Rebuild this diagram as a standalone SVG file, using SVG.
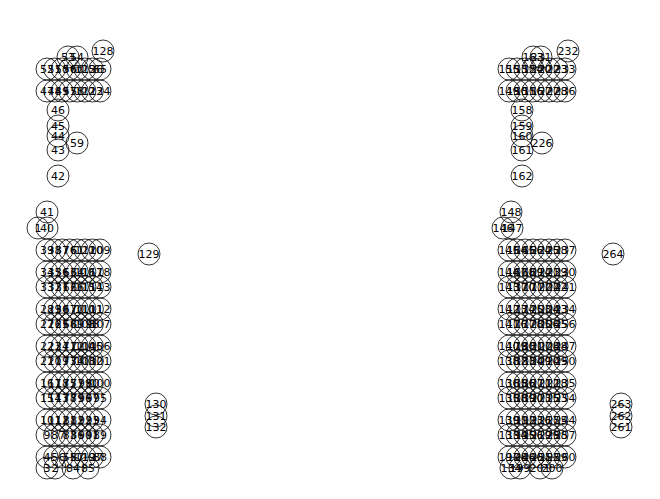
<svg xmlns="http://www.w3.org/2000/svg" width="660" height="499" viewBox="0 0 660 499">
<style>
.n circle{fill:none;stroke:#000;stroke-width:0.8;r:11px}
.n text{font-family:"DejaVu Sans",sans-serif;font-size:11px;text-anchor:middle;fill:#000}
</style>
<rect width="660" height="499" fill="#fff"/>
<g id="connectors"/>
<g id="nodes">
<g id="n53" class="n"><circle cx="68" cy="57" r="11"/><text x="68" y="61">53</text></g>
<g id="n54" class="n"><circle cx="77" cy="57" r="11"/><text x="77" y="61">54</text></g>
<g id="n128" class="n"><circle cx="103" cy="51" r="11"/><text x="103" y="55">128</text></g>
<g id="n52" class="n"><circle cx="47" cy="69" r="11"/><text x="47" y="73">52</text></g>
<g id="n51" class="n"><circle cx="54.6" cy="69" r="11"/><text x="54.6" y="73">51</text></g>
<g id="n50" class="n"><circle cx="62.1" cy="69" r="11"/><text x="62.1" y="73">50</text></g>
<g id="n56" class="n"><circle cx="69.7" cy="69" r="11"/><text x="69.7" y="73">56</text></g>
<g id="n60" class="n"><circle cx="77.3" cy="69" r="11"/><text x="77.3" y="73">60</text></g>
<g id="n125" class="n"><circle cx="84.9" cy="69" r="11"/><text x="84.9" y="73">125</text></g>
<g id="n126" class="n"><circle cx="92.4" cy="69" r="11"/><text x="92.4" y="73">126</text></g>
<g id="n65" class="n"><circle cx="100" cy="69" r="11"/><text x="100" y="73">65</text></g>
<g id="n47" class="n"><circle cx="47" cy="91" r="11"/><text x="47" y="95">47</text></g>
<g id="n48" class="n"><circle cx="54.6" cy="91" r="11"/><text x="54.6" y="95">48</text></g>
<g id="n49" class="n"><circle cx="62.1" cy="91" r="11"/><text x="62.1" y="95">49</text></g>
<g id="n57" class="n"><circle cx="69.7" cy="91" r="11"/><text x="69.7" y="95">57</text></g>
<g id="n58" class="n"><circle cx="77.3" cy="91" r="11"/><text x="77.3" y="95">58</text></g>
<g id="n122" class="n"><circle cx="84.9" cy="91" r="11"/><text x="84.9" y="95">122</text></g>
<g id="n123" class="n"><circle cx="92.4" cy="91" r="11"/><text x="92.4" y="95">123</text></g>
<g id="n124" class="n"><circle cx="100" cy="91" r="11"/><text x="100" y="95">124</text></g>
<g id="n46" class="n"><circle cx="58" cy="110" r="11"/><text x="58" y="114">46</text></g>
<g id="n45" class="n"><circle cx="58" cy="126" r="11"/><text x="58" y="130">45</text></g>
<g id="n44" class="n"><circle cx="58" cy="136" r="11"/><text x="58" y="140">44</text></g>
<g id="n43" class="n"><circle cx="58" cy="150" r="11"/><text x="58" y="154">43</text></g>
<g id="n59" class="n"><circle cx="77" cy="143" r="11"/><text x="77" y="147">59</text></g>
<g id="n42" class="n"><circle cx="58" cy="176" r="11"/><text x="58" y="180">42</text></g>
<g id="n41" class="n"><circle cx="47" cy="212" r="11"/><text x="47" y="216">41</text></g>
<g id="n1" class="n"><circle cx="38" cy="228" r="11"/><text x="38" y="232">1</text></g>
<g id="n40" class="n"><circle cx="47" cy="228" r="11"/><text x="47" y="232">40</text></g>
<g id="n129" class="n"><circle cx="149" cy="254" r="11"/><text x="149" y="258">129</text></g>
<g id="n130" class="n"><circle cx="156" cy="404" r="11"/><text x="156" y="408">130</text></g>
<g id="n131" class="n"><circle cx="156" cy="416" r="11"/><text x="156" y="420">131</text></g>
<g id="n132" class="n"><circle cx="156" cy="427" r="11"/><text x="156" y="431">132</text></g>
<g id="n39" class="n"><circle cx="47" cy="250" r="11"/><text x="47" y="254">39</text></g>
<g id="n38" class="n"><circle cx="54.6" cy="250" r="11"/><text x="54.6" y="254">38</text></g>
<g id="n37" class="n"><circle cx="62.1" cy="250" r="11"/><text x="62.1" y="254">37</text></g>
<g id="n76" class="n"><circle cx="69.7" cy="250" r="11"/><text x="69.7" y="254">76</text></g>
<g id="n61" class="n"><circle cx="77.3" cy="250" r="11"/><text x="77.3" y="254">61</text></g>
<g id="n121" class="n"><circle cx="84.9" cy="250" r="11"/><text x="84.9" y="254">121</text></g>
<g id="n120" class="n"><circle cx="92.4" cy="250" r="11"/><text x="92.4" y="254">120</text></g>
<g id="n109" class="n"><circle cx="100" cy="250" r="11"/><text x="100" y="254">109</text></g>
<g id="n34" class="n"><circle cx="47" cy="272" r="11"/><text x="47" y="276">34</text></g>
<g id="n35" class="n"><circle cx="54.6" cy="272" r="11"/><text x="54.6" y="276">35</text></g>
<g id="n36" class="n"><circle cx="62.1" cy="272" r="11"/><text x="62.1" y="276">36</text></g>
<g id="n63" class="n"><circle cx="69.7" cy="272" r="11"/><text x="69.7" y="276">63</text></g>
<g id="n64" class="n"><circle cx="77.3" cy="272" r="11"/><text x="77.3" y="276">64</text></g>
<g id="n116" class="n"><circle cx="84.9" cy="272" r="11"/><text x="84.9" y="276">116</text></g>
<g id="n117" class="n"><circle cx="92.4" cy="272" r="11"/><text x="92.4" y="276">117</text></g>
<g id="n118" class="n"><circle cx="100" cy="272" r="11"/><text x="100" y="276">118</text></g>
<g id="n33" class="n"><circle cx="47" cy="287" r="11"/><text x="47" y="291">33</text></g>
<g id="n32" class="n"><circle cx="54.6" cy="287" r="11"/><text x="54.6" y="291">32</text></g>
<g id="n31" class="n"><circle cx="62.1" cy="287" r="11"/><text x="62.1" y="291">31</text></g>
<g id="n62" class="n"><circle cx="69.7" cy="287" r="11"/><text x="69.7" y="291">62</text></g>
<g id="n66" class="n"><circle cx="77.3" cy="287" r="11"/><text x="77.3" y="291">66</text></g>
<g id="n115" class="n"><circle cx="84.9" cy="287" r="11"/><text x="84.9" y="291">115</text></g>
<g id="n114" class="n"><circle cx="92.4" cy="287" r="11"/><text x="92.4" y="291">114</text></g>
<g id="n113" class="n"><circle cx="100" cy="287" r="11"/><text x="100" y="291">113</text></g>
<g id="n28" class="n"><circle cx="47" cy="309" r="11"/><text x="47" y="313">28</text></g>
<g id="n29" class="n"><circle cx="54.6" cy="309" r="11"/><text x="54.6" y="313">29</text></g>
<g id="n30" class="n"><circle cx="62.1" cy="309" r="11"/><text x="62.1" y="313">30</text></g>
<g id="n67" class="n"><circle cx="69.7" cy="309" r="11"/><text x="69.7" y="313">67</text></g>
<g id="n70" class="n"><circle cx="77.3" cy="309" r="11"/><text x="77.3" y="313">70</text></g>
<g id="n110" class="n"><circle cx="84.9" cy="309" r="11"/><text x="84.9" y="313">110</text></g>
<g id="n111" class="n"><circle cx="92.4" cy="309" r="11"/><text x="92.4" y="313">111</text></g>
<g id="n112" class="n"><circle cx="100" cy="309" r="11"/><text x="100" y="313">112</text></g>
<g id="n27" class="n"><circle cx="47" cy="324" r="11"/><text x="47" y="328">27</text></g>
<g id="n26" class="n"><circle cx="54.6" cy="324" r="11"/><text x="54.6" y="328">26</text></g>
<g id="n25" class="n"><circle cx="62.1" cy="324" r="11"/><text x="62.1" y="328">25</text></g>
<g id="n68" class="n"><circle cx="69.7" cy="324" r="11"/><text x="69.7" y="328">68</text></g>
<g id="n69" class="n"><circle cx="77.3" cy="324" r="11"/><text x="77.3" y="328">69</text></g>
<g id="n108" class="n"><circle cx="84.9" cy="324" r="11"/><text x="84.9" y="328">108</text></g>
<g id="n98" class="n"><circle cx="92.4" cy="324" r="11"/><text x="92.4" y="328">98</text></g>
<g id="n107" class="n"><circle cx="100" cy="324" r="11"/><text x="100" y="328">107</text></g>
<g id="n22" class="n"><circle cx="47" cy="346" r="11"/><text x="47" y="350">22</text></g>
<g id="n23" class="n"><circle cx="54.6" cy="346" r="11"/><text x="54.6" y="350">23</text></g>
<g id="n24" class="n"><circle cx="62.1" cy="346" r="11"/><text x="62.1" y="350">24</text></g>
<g id="n71" class="n"><circle cx="69.7" cy="346" r="11"/><text x="69.7" y="350">71</text></g>
<g id="n72" class="n"><circle cx="77.3" cy="346" r="11"/><text x="77.3" y="350">72</text></g>
<g id="n104" class="n"><circle cx="84.9" cy="346" r="11"/><text x="84.9" y="350">104</text></g>
<g id="n105" class="n"><circle cx="92.4" cy="346" r="11"/><text x="92.4" y="350">105</text></g>
<g id="n106" class="n"><circle cx="100" cy="346" r="11"/><text x="100" y="350">106</text></g>
<g id="n21" class="n"><circle cx="47" cy="361" r="11"/><text x="47" y="365">21</text></g>
<g id="n20" class="n"><circle cx="54.6" cy="361" r="11"/><text x="54.6" y="365">20</text></g>
<g id="n19" class="n"><circle cx="62.1" cy="361" r="11"/><text x="62.1" y="365">19</text></g>
<g id="n73" class="n"><circle cx="69.7" cy="361" r="11"/><text x="69.7" y="365">73</text></g>
<g id="n74" class="n"><circle cx="77.3" cy="361" r="11"/><text x="77.3" y="365">74</text></g>
<g id="n103" class="n"><circle cx="84.9" cy="361" r="11"/><text x="84.9" y="365">103</text></g>
<g id="n102" class="n"><circle cx="92.4" cy="361" r="11"/><text x="92.4" y="365">102</text></g>
<g id="n101" class="n"><circle cx="100" cy="361" r="11"/><text x="100" y="365">101</text></g>
<g id="n16" class="n"><circle cx="47" cy="383" r="11"/><text x="47" y="387">16</text></g>
<g id="n17" class="n"><circle cx="54.6" cy="383" r="11"/><text x="54.6" y="387">17</text></g>
<g id="n18" class="n"><circle cx="62.1" cy="383" r="11"/><text x="62.1" y="387">18</text></g>
<g id="n75" class="n"><circle cx="69.7" cy="383" r="11"/><text x="69.7" y="387">75</text></g>
<g id="n77" class="n"><circle cx="77.3" cy="383" r="11"/><text x="77.3" y="387">77</text></g>
<g id="n99" class="n"><circle cx="84.9" cy="383" r="11"/><text x="84.9" y="387">99</text></g>
<g id="n80" class="n"><circle cx="92.4" cy="383" r="11"/><text x="92.4" y="387">80</text></g>
<g id="n100" class="n"><circle cx="100" cy="383" r="11"/><text x="100" y="387">100</text></g>
<g id="n15" class="n"><circle cx="47" cy="398" r="11"/><text x="47" y="402">15</text></g>
<g id="n14" class="n"><circle cx="54.6" cy="398" r="11"/><text x="54.6" y="402">14</text></g>
<g id="n13" class="n"><circle cx="62.1" cy="398" r="11"/><text x="62.1" y="402">13</text></g>
<g id="n78" class="n"><circle cx="69.7" cy="398" r="11"/><text x="69.7" y="402">78</text></g>
<g id="n79" class="n"><circle cx="77.3" cy="398" r="11"/><text x="77.3" y="402">79</text></g>
<g id="n96" class="n"><circle cx="84.9" cy="398" r="11"/><text x="84.9" y="402">96</text></g>
<g id="n97" class="n"><circle cx="92.4" cy="398" r="11"/><text x="92.4" y="402">97</text></g>
<g id="n95" class="n"><circle cx="100" cy="398" r="11"/><text x="100" y="402">95</text></g>
<g id="n10" class="n"><circle cx="47" cy="420" r="11"/><text x="47" y="424">10</text></g>
<g id="n11" class="n"><circle cx="54.6" cy="420" r="11"/><text x="54.6" y="424">11</text></g>
<g id="n12" class="n"><circle cx="62.1" cy="420" r="11"/><text x="62.1" y="424">12</text></g>
<g id="n81" class="n"><circle cx="69.7" cy="420" r="11"/><text x="69.7" y="424">81</text></g>
<g id="n82" class="n"><circle cx="77.3" cy="420" r="11"/><text x="77.3" y="424">82</text></g>
<g id="n92" class="n"><circle cx="84.9" cy="420" r="11"/><text x="84.9" y="424">92</text></g>
<g id="n93" class="n"><circle cx="92.4" cy="420" r="11"/><text x="92.4" y="424">93</text></g>
<g id="n94" class="n"><circle cx="100" cy="420" r="11"/><text x="100" y="424">94</text></g>
<g id="n9" class="n"><circle cx="47" cy="435" r="11"/><text x="47" y="439">9</text></g>
<g id="n8" class="n"><circle cx="54.6" cy="435" r="11"/><text x="54.6" y="439">8</text></g>
<g id="n7" class="n"><circle cx="62.1" cy="435" r="11"/><text x="62.1" y="439">7</text></g>
<g id="n83" class="n"><circle cx="69.7" cy="435" r="11"/><text x="69.7" y="439">83</text></g>
<g id="n86" class="n"><circle cx="77.3" cy="435" r="11"/><text x="77.3" y="439">86</text></g>
<g id="n90" class="n"><circle cx="84.9" cy="435" r="11"/><text x="84.9" y="439">90</text></g>
<g id="n91" class="n"><circle cx="92.4" cy="435" r="11"/><text x="92.4" y="439">91</text></g>
<g id="n89" class="n"><circle cx="100" cy="435" r="11"/><text x="100" y="439">89</text></g>
<g id="n4" class="n"><circle cx="47" cy="457" r="11"/><text x="47" y="461">4</text></g>
<g id="n5" class="n"><circle cx="54.6" cy="457" r="11"/><text x="54.6" y="461">5</text></g>
<g id="n6" class="n"><circle cx="62.1" cy="457" r="11"/><text x="62.1" y="461">6</text></g>
<g id="n55" class="n"><circle cx="69.7" cy="457" r="11"/><text x="69.7" y="461">55</text></g>
<g id="n87" class="n"><circle cx="77.3" cy="457" r="11"/><text x="77.3" y="461">87</text></g>
<g id="n119" class="n"><circle cx="84.9" cy="457" r="11"/><text x="84.9" y="461">119</text></g>
<g id="n127" class="n"><circle cx="92.4" cy="457" r="11"/><text x="92.4" y="461">127</text></g>
<g id="n88" class="n"><circle cx="100" cy="457" r="11"/><text x="100" y="461">88</text></g>
<g id="n3" class="n"><circle cx="47" cy="468" r="11"/><text x="47" y="472">3</text></g>
<g id="n2" class="n"><circle cx="55" cy="468" r="11"/><text x="55" y="472">2</text></g>
<g id="n84" class="n"><circle cx="73" cy="468" r="11"/><text x="73" y="472">84</text></g>
<g id="n85" class="n"><circle cx="88" cy="468" r="11"/><text x="88" y="472">85</text></g>

<g id="n163" class="n"><circle cx="533" cy="57" r="11"/><text x="533" y="61">163</text></g>
<g id="n231" class="n"><circle cx="541" cy="57" r="11"/><text x="541" y="61">231</text></g>
<g id="n232" class="n"><circle cx="568" cy="51" r="11"/><text x="568" y="55">232</text></g>
<g id="n155" class="n"><circle cx="509" cy="69" r="11"/><text x="509" y="73">155</text></g>
<g id="n153" class="n"><circle cx="517" cy="69" r="11"/><text x="517" y="73">153</text></g>
<g id="n152" class="n"><circle cx="525" cy="69" r="11"/><text x="525" y="73">152</text></g>
<g id="n154" class="n"><circle cx="533" cy="69" r="11"/><text x="533" y="73">154</text></g>
<g id="n220" class="n"><circle cx="541" cy="69" r="11"/><text x="541" y="73">220</text></g>
<g id="n222" class="n"><circle cx="549" cy="69" r="11"/><text x="549" y="73">222</text></g>
<g id="n223" class="n"><circle cx="557" cy="69" r="11"/><text x="557" y="73">223</text></g>
<g id="n233" class="n"><circle cx="565" cy="69" r="11"/><text x="565" y="73">233</text></g>
<g id="n149" class="n"><circle cx="509" cy="91" r="11"/><text x="509" y="95">149</text></g>
<g id="n150" class="n"><circle cx="517" cy="91" r="11"/><text x="517" y="95">150</text></g>
<g id="n151" class="n"><circle cx="525" cy="91" r="11"/><text x="525" y="95">151</text></g>
<g id="n156" class="n"><circle cx="533" cy="91" r="11"/><text x="533" y="95">156</text></g>
<g id="n157" class="n"><circle cx="541" cy="91" r="11"/><text x="541" y="95">157</text></g>
<g id="n227" class="n"><circle cx="549" cy="91" r="11"/><text x="549" y="95">227</text></g>
<g id="n228" class="n"><circle cx="557" cy="91" r="11"/><text x="557" y="95">228</text></g>
<g id="n236" class="n"><circle cx="565" cy="91" r="11"/><text x="565" y="95">236</text></g>
<g id="n158" class="n"><circle cx="522" cy="110" r="11"/><text x="522" y="114">158</text></g>
<g id="n159" class="n"><circle cx="522" cy="126" r="11"/><text x="522" y="130">159</text></g>
<g id="n160" class="n"><circle cx="522" cy="136" r="11"/><text x="522" y="140">160</text></g>
<g id="n161" class="n"><circle cx="522" cy="150" r="11"/><text x="522" y="154">161</text></g>
<g id="n226" class="n"><circle cx="542" cy="143" r="11"/><text x="542" y="147">226</text></g>
<g id="n162" class="n"><circle cx="522" cy="176" r="11"/><text x="522" y="180">162</text></g>
<g id="n148" class="n"><circle cx="511" cy="212" r="11"/><text x="511" y="216">148</text></g>
<g id="n146" class="n"><circle cx="503" cy="228" r="11"/><text x="503" y="232">146</text></g>
<g id="n147" class="n"><circle cx="512" cy="228" r="11"/><text x="512" y="232">147</text></g>
<g id="n264" class="n"><circle cx="613" cy="254" r="11"/><text x="613" y="258">264</text></g>
<g id="n263" class="n"><circle cx="621" cy="404" r="11"/><text x="621" y="408">263</text></g>
<g id="n262" class="n"><circle cx="621" cy="416" r="11"/><text x="621" y="420">262</text></g>
<g id="n261" class="n"><circle cx="621" cy="427" r="11"/><text x="621" y="431">261</text></g>
<g id="n145" class="n"><circle cx="509" cy="250" r="11"/><text x="509" y="254">145</text></g>
<g id="n164" class="n"><circle cx="517" cy="250" r="11"/><text x="517" y="254">164</text></g>
<g id="n165" class="n"><circle cx="525" cy="250" r="11"/><text x="525" y="254">165</text></g>
<g id="n166" class="n"><circle cx="533" cy="250" r="11"/><text x="533" y="254">166</text></g>
<g id="n224" class="n"><circle cx="541" cy="250" r="11"/><text x="541" y="254">224</text></g>
<g id="n225" class="n"><circle cx="549" cy="250" r="11"/><text x="549" y="254">225</text></g>
<g id="n238" class="n"><circle cx="557" cy="250" r="11"/><text x="557" y="254">238</text></g>
<g id="n237" class="n"><circle cx="565" cy="250" r="11"/><text x="565" y="254">237</text></g>
<g id="n144" class="n"><circle cx="509" cy="272" r="11"/><text x="509" y="276">144</text></g>
<g id="n167" class="n"><circle cx="517" cy="272" r="11"/><text x="517" y="276">167</text></g>
<g id="n168" class="n"><circle cx="525" cy="272" r="11"/><text x="525" y="276">168</text></g>
<g id="n169" class="n"><circle cx="533" cy="272" r="11"/><text x="533" y="276">169</text></g>
<g id="n214" class="n"><circle cx="541" cy="272" r="11"/><text x="541" y="276">214</text></g>
<g id="n221" class="n"><circle cx="549" cy="272" r="11"/><text x="549" y="276">221</text></g>
<g id="n239" class="n"><circle cx="557" cy="272" r="11"/><text x="557" y="276">239</text></g>
<g id="n230" class="n"><circle cx="565" cy="272" r="11"/><text x="565" y="276">230</text></g>
<g id="n143" class="n"><circle cx="509" cy="287" r="11"/><text x="509" y="291">143</text></g>
<g id="n137" class="n"><circle cx="517" cy="287" r="11"/><text x="517" y="291">137</text></g>
<g id="n170" class="n"><circle cx="525" cy="287" r="11"/><text x="525" y="291">170</text></g>
<g id="n171" class="n"><circle cx="533" cy="287" r="11"/><text x="533" y="291">171</text></g>
<g id="n172" class="n"><circle cx="541" cy="287" r="11"/><text x="541" y="291">172</text></g>
<g id="n202" class="n"><circle cx="549" cy="287" r="11"/><text x="549" y="291">202</text></g>
<g id="n242" class="n"><circle cx="557" cy="287" r="11"/><text x="557" y="291">242</text></g>
<g id="n241" class="n"><circle cx="565" cy="287" r="11"/><text x="565" y="291">241</text></g>
<g id="n142" class="n"><circle cx="509" cy="309" r="11"/><text x="509" y="313">142</text></g>
<g id="n173" class="n"><circle cx="517" cy="309" r="11"/><text x="517" y="313">173</text></g>
<g id="n174" class="n"><circle cx="525" cy="309" r="11"/><text x="525" y="313">174</text></g>
<g id="n175" class="n"><circle cx="533" cy="309" r="11"/><text x="533" y="313">175</text></g>
<g id="n203" class="n"><circle cx="541" cy="309" r="11"/><text x="541" y="313">203</text></g>
<g id="n204" class="n"><circle cx="549" cy="309" r="11"/><text x="549" y="313">204</text></g>
<g id="n243" class="n"><circle cx="557" cy="309" r="11"/><text x="557" y="313">243</text></g>
<g id="n234" class="n"><circle cx="565" cy="309" r="11"/><text x="565" y="313">234</text></g>
<g id="n141" class="n"><circle cx="509" cy="324" r="11"/><text x="509" y="328">141</text></g>
<g id="n176" class="n"><circle cx="517" cy="324" r="11"/><text x="517" y="328">176</text></g>
<g id="n177" class="n"><circle cx="525" cy="324" r="11"/><text x="525" y="328">177</text></g>
<g id="n178" class="n"><circle cx="533" cy="324" r="11"/><text x="533" y="328">178</text></g>
<g id="n205" class="n"><circle cx="541" cy="324" r="11"/><text x="541" y="328">205</text></g>
<g id="n206" class="n"><circle cx="549" cy="324" r="11"/><text x="549" y="328">206</text></g>
<g id="n245" class="n"><circle cx="557" cy="324" r="11"/><text x="557" y="328">245</text></g>
<g id="n256" class="n"><circle cx="565" cy="324" r="11"/><text x="565" y="328">256</text></g>
<g id="n140" class="n"><circle cx="509" cy="346" r="11"/><text x="509" y="350">140</text></g>
<g id="n179" class="n"><circle cx="517" cy="346" r="11"/><text x="517" y="350">179</text></g>
<g id="n180" class="n"><circle cx="525" cy="346" r="11"/><text x="525" y="350">180</text></g>
<g id="n181" class="n"><circle cx="533" cy="346" r="11"/><text x="533" y="350">181</text></g>
<g id="n207" class="n"><circle cx="541" cy="346" r="11"/><text x="541" y="350">207</text></g>
<g id="n208" class="n"><circle cx="549" cy="346" r="11"/><text x="549" y="350">208</text></g>
<g id="n248" class="n"><circle cx="557" cy="346" r="11"/><text x="557" y="350">248</text></g>
<g id="n247" class="n"><circle cx="565" cy="346" r="11"/><text x="565" y="350">247</text></g>
<g id="n138" class="n"><circle cx="509" cy="361" r="11"/><text x="509" y="365">138</text></g>
<g id="n182" class="n"><circle cx="517" cy="361" r="11"/><text x="517" y="365">182</text></g>
<g id="n183" class="n"><circle cx="525" cy="361" r="11"/><text x="525" y="365">183</text></g>
<g id="n184" class="n"><circle cx="533" cy="361" r="11"/><text x="533" y="365">184</text></g>
<g id="n209" class="n"><circle cx="541" cy="361" r="11"/><text x="541" y="365">209</text></g>
<g id="n210" class="n"><circle cx="549" cy="361" r="11"/><text x="549" y="365">210</text></g>
<g id="n249" class="n"><circle cx="557" cy="361" r="11"/><text x="557" y="365">249</text></g>
<g id="n250" class="n"><circle cx="565" cy="361" r="11"/><text x="565" y="365">250</text></g>
<g id="n136" class="n"><circle cx="509" cy="383" r="11"/><text x="509" y="387">136</text></g>
<g id="n185" class="n"><circle cx="517" cy="383" r="11"/><text x="517" y="387">185</text></g>
<g id="n186" class="n"><circle cx="525" cy="383" r="11"/><text x="525" y="387">186</text></g>
<g id="n187" class="n"><circle cx="533" cy="383" r="11"/><text x="533" y="387">187</text></g>
<g id="n211" class="n"><circle cx="541" cy="383" r="11"/><text x="541" y="387">211</text></g>
<g id="n212" class="n"><circle cx="549" cy="383" r="11"/><text x="549" y="387">212</text></g>
<g id="n218" class="n"><circle cx="557" cy="383" r="11"/><text x="557" y="387">218</text></g>
<g id="n235" class="n"><circle cx="565" cy="383" r="11"/><text x="565" y="387">235</text></g>
<g id="n135" class="n"><circle cx="509" cy="398" r="11"/><text x="509" y="402">135</text></g>
<g id="n188" class="n"><circle cx="517" cy="398" r="11"/><text x="517" y="402">188</text></g>
<g id="n189" class="n"><circle cx="525" cy="398" r="11"/><text x="525" y="402">189</text></g>
<g id="n190" class="n"><circle cx="533" cy="398" r="11"/><text x="533" y="402">190</text></g>
<g id="n213" class="n"><circle cx="541" cy="398" r="11"/><text x="541" y="402">213</text></g>
<g id="n215" class="n"><circle cx="549" cy="398" r="11"/><text x="549" y="402">215</text></g>
<g id="n253" class="n"><circle cx="557" cy="398" r="11"/><text x="557" y="402">253</text></g>
<g id="n254" class="n"><circle cx="565" cy="398" r="11"/><text x="565" y="402">254</text></g>
<g id="n139" class="n"><circle cx="509" cy="420" r="11"/><text x="509" y="424">139</text></g>
<g id="n191" class="n"><circle cx="517" cy="420" r="11"/><text x="517" y="424">191</text></g>
<g id="n192" class="n"><circle cx="525" cy="420" r="11"/><text x="525" y="424">192</text></g>
<g id="n193" class="n"><circle cx="533" cy="420" r="11"/><text x="533" y="424">193</text></g>
<g id="n216" class="n"><circle cx="541" cy="420" r="11"/><text x="541" y="424">216</text></g>
<g id="n217" class="n"><circle cx="549" cy="420" r="11"/><text x="549" y="424">217</text></g>
<g id="n255" class="n"><circle cx="557" cy="420" r="11"/><text x="557" y="424">255</text></g>
<g id="n244" class="n"><circle cx="565" cy="420" r="11"/><text x="565" y="424">244</text></g>
<g id="n133" class="n"><circle cx="509" cy="435" r="11"/><text x="509" y="439">133</text></g>
<g id="n194" class="n"><circle cx="517" cy="435" r="11"/><text x="517" y="439">194</text></g>
<g id="n195" class="n"><circle cx="525" cy="435" r="11"/><text x="525" y="439">195</text></g>
<g id="n196" class="n"><circle cx="533" cy="435" r="11"/><text x="533" y="439">196</text></g>
<g id="n219" class="n"><circle cx="541" cy="435" r="11"/><text x="541" y="439">219</text></g>
<g id="n229" class="n"><circle cx="549" cy="435" r="11"/><text x="549" y="439">229</text></g>
<g id="n258" class="n"><circle cx="557" cy="435" r="11"/><text x="557" y="439">258</text></g>
<g id="n257" class="n"><circle cx="565" cy="435" r="11"/><text x="565" y="439">257</text></g>
<g id="n197" class="n"><circle cx="509" cy="457" r="11"/><text x="509" y="461">197</text></g>
<g id="n198" class="n"><circle cx="517" cy="457" r="11"/><text x="517" y="461">198</text></g>
<g id="n246" class="n"><circle cx="525" cy="457" r="11"/><text x="525" y="461">246</text></g>
<g id="n240" class="n"><circle cx="533" cy="457" r="11"/><text x="533" y="461">240</text></g>
<g id="n251" class="n"><circle cx="541" cy="457" r="11"/><text x="541" y="461">251</text></g>
<g id="n252" class="n"><circle cx="549" cy="457" r="11"/><text x="549" y="461">252</text></g>
<g id="n259" class="n"><circle cx="557" cy="457" r="11"/><text x="557" y="461">259</text></g>
<g id="n260" class="n"><circle cx="565" cy="457" r="11"/><text x="565" y="461">260</text></g>
<g id="n134" class="n"><circle cx="511" cy="468" r="11"/><text x="511" y="472">134</text></g>
<g id="n199" class="n"><circle cx="520" cy="468" r="11"/><text x="520" y="472">199</text></g>
<g id="n201" class="n"><circle cx="540" cy="468" r="11"/><text x="540" y="472">201</text></g>
<g id="n200" class="n"><circle cx="552" cy="468" r="11"/><text x="552" y="472">200</text></g>
</g>
</svg>
